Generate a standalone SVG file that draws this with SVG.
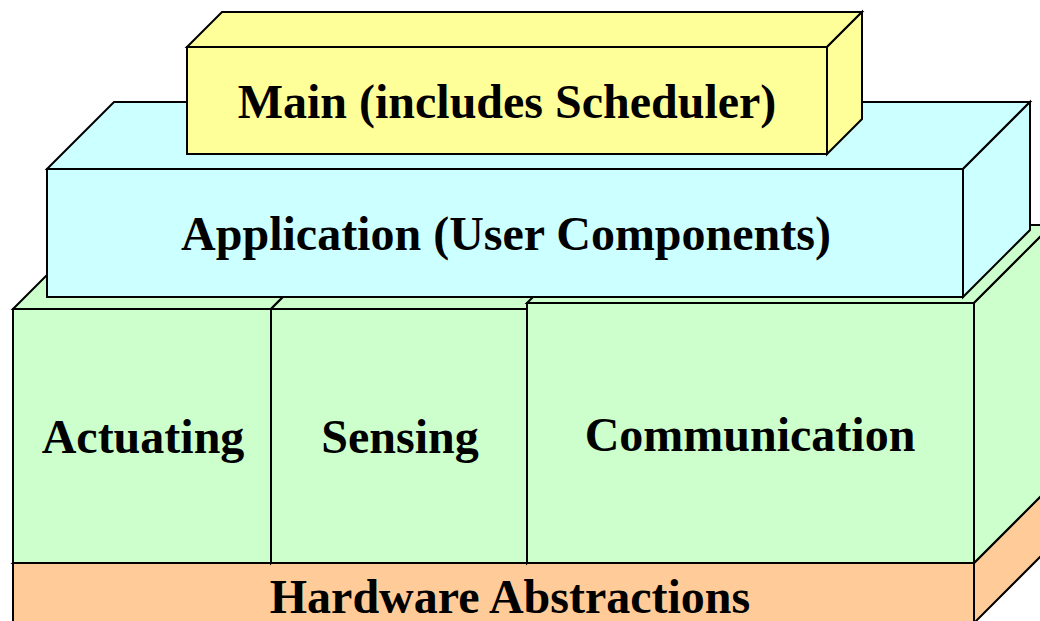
<svg xmlns="http://www.w3.org/2000/svg" width="1040" height="621" viewBox="0 0 1040 621">
  <style>
    .edge { stroke: #000; stroke-width: 2; stroke-linejoin: miter; }
    .hw { fill: #FFCC99; }
    .grn { fill: #CCFFCC; }
    .app { fill: #CCFFFF; }
    .main { fill: #FFFF99; }
    .lbl { font-family: "Liberation Serif", "Times New Roman", serif; font-weight: bold; font-size: 48px; fill: #000; text-anchor: middle; }
  </style>
  <rect x="0" y="0" width="1040" height="621" fill="#FFFFFF"/>
  <g id="hardware">
    <polygon class="hw edge" points="13,563 91,485 1052,485 974,563"/>
    <polygon class="hw edge" points="974,563 1052,485 1052,545 974,623"/>
    <rect class="hw edge" x="13" y="563" width="961" height="60"/>
    <text class="lbl" x="510" y="613">Hardware Abstractions</text>
  </g>
  <g id="actuating">
    <polygon class="grn edge" points="13,309 91,231 349,231 271,309"/>
    <polygon class="grn edge" points="271,309 349,231 349,485 271,563"/>
    <rect class="grn edge" x="13" y="309" width="258" height="254"/>
    <text class="lbl" x="143" y="453">Actuating</text>
  </g>
  <g id="sensing">
    <polygon class="grn edge" points="271,309 349,231 605,231 527,309"/>
    <polygon class="grn edge" points="527,309 605,231 605,485 527,563"/>
    <rect class="grn edge" x="271" y="309" width="256" height="254"/>
    <text class="lbl" x="400" y="453">Sensing</text>
  </g>
  <g id="communication">
    <polygon class="grn edge" points="527,303 605,225 1052,225 974,303"/>
    <polygon class="grn edge" points="974,303 1052,225 1052,485 974,563"/>
    <rect class="grn edge" x="527" y="303" width="447" height="260"/>
    <text class="lbl" x="750" y="451">Communication</text>
  </g>
  <g id="application">
    <polygon class="app edge" points="47,169 114,102 1030,102 963,169"/>
    <polygon class="app edge" points="963,169 1030,102 1030,230 963,297"/>
    <rect class="app edge" x="47" y="169" width="916" height="128"/>
    <text class="lbl" x="506" y="250">Application (User Components)</text>
  </g>
  <g id="main">
    <polygon class="main edge" points="187,47 222,12 862,12 827,47"/>
    <polygon class="main edge" points="827,47 862,12 862,119 827,154"/>
    <rect class="main edge" x="187" y="47" width="640" height="107"/>
    <text class="lbl" x="507" y="118">Main (includes Scheduler)</text>
  </g>
  <g id="connectors"></g>
</svg>
